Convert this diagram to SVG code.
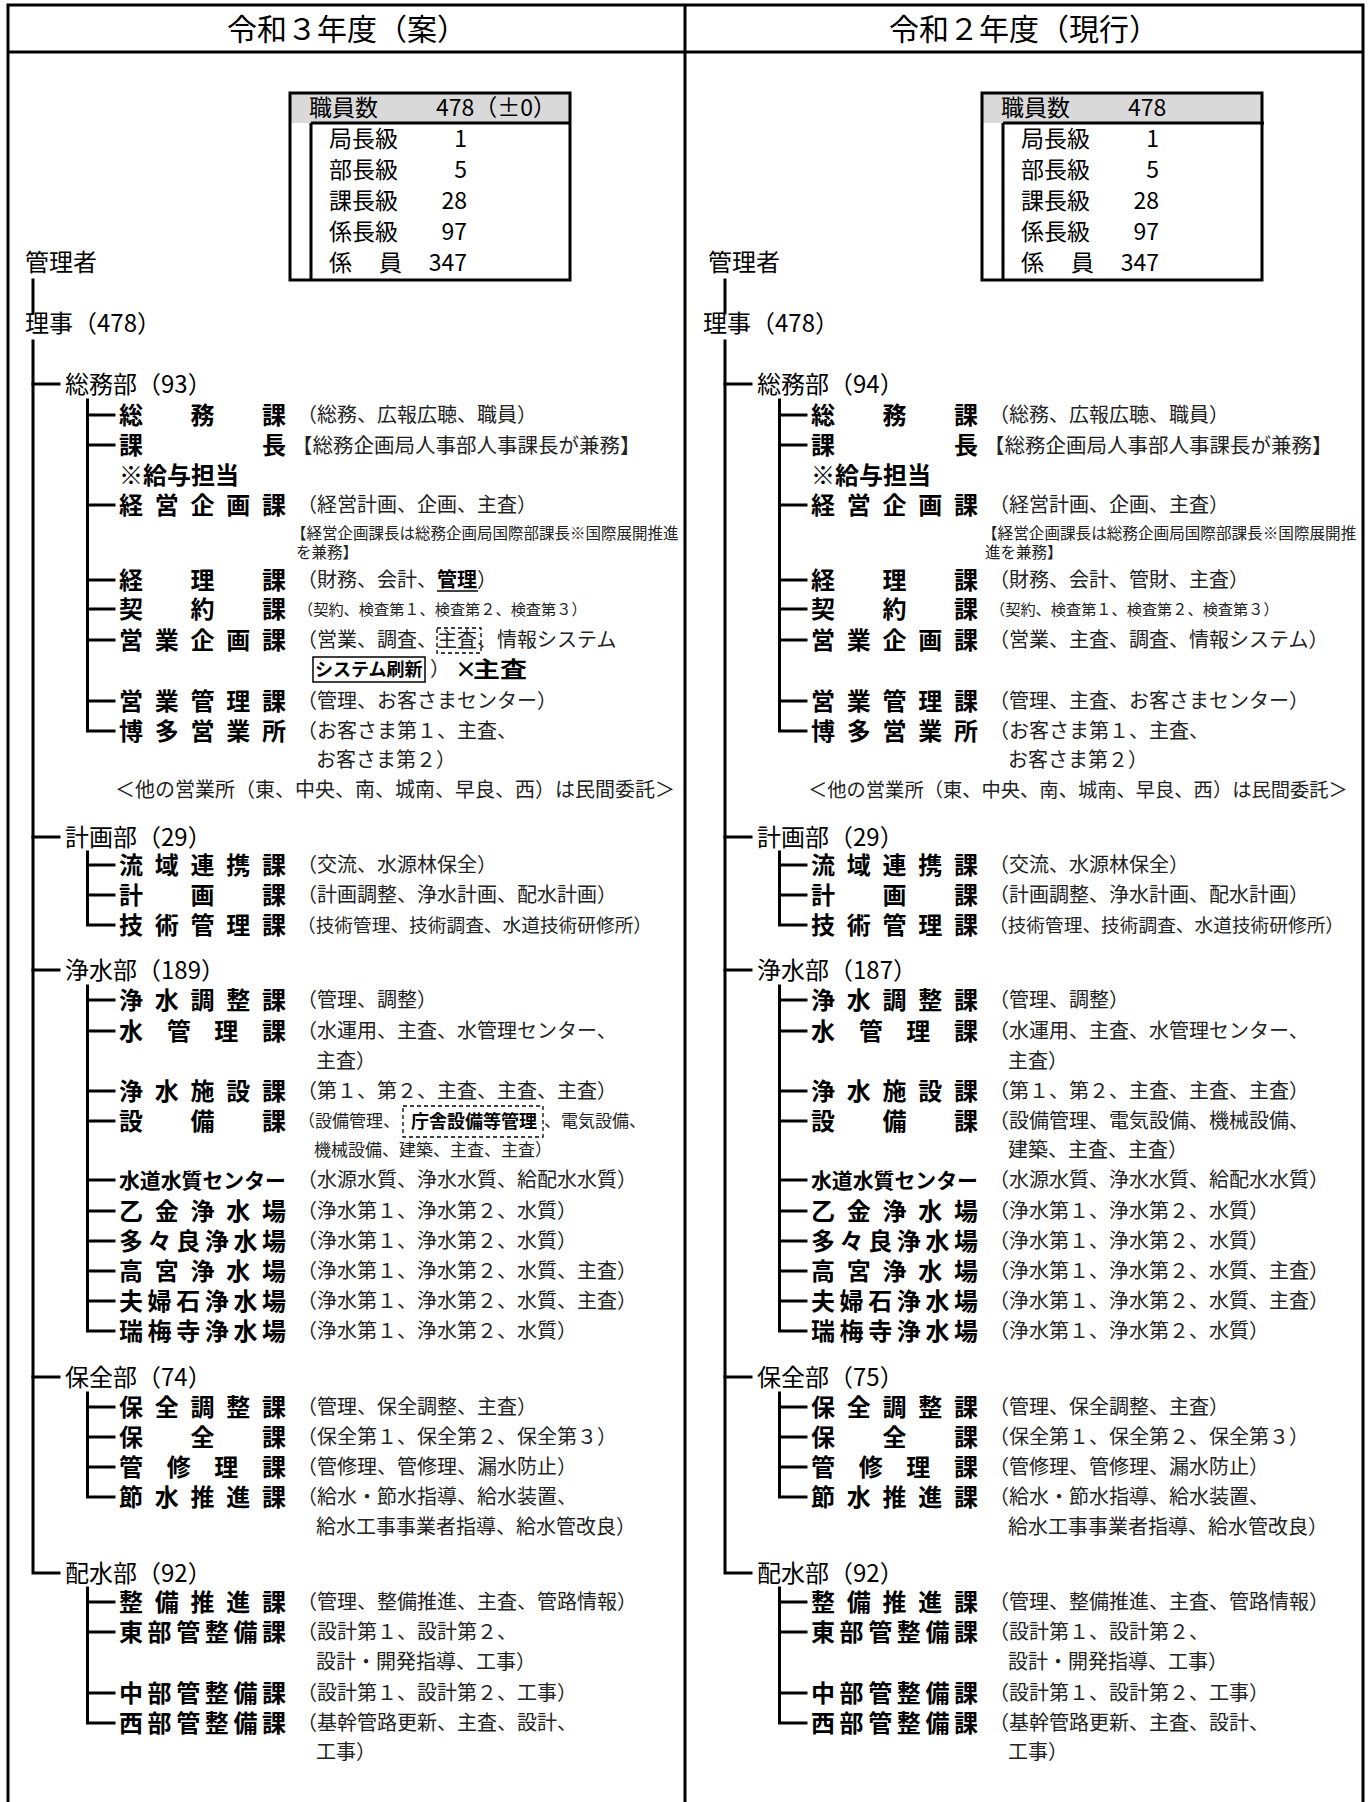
<svg xmlns="http://www.w3.org/2000/svg" width="1370" height="1802" viewBox="0 0 1370 1802">
<style>
text{font-family:"Noto Sans CJK JP","Noto Sans",sans-serif;fill:#000}
.title{font-size:30px;text-anchor:middle}
.top{font-size:24px}
.dept{font-size:24px}
.sec{font-size:24px;font-weight:bold}
.det{font-size:20px;fill:#222}
.sm{font-size:15.5px;fill:#222}
.box{font-size:23px}
.num{font-size:23px;text-anchor:end}
.ln{fill:none;stroke:#000;stroke-width:3;stroke-linecap:square}
.frame{fill:none;stroke:#000;stroke-width:3}
.dash{fill:none;stroke:#000;stroke-width:1.3;stroke-dasharray:4 3}
.solid{fill:none;stroke:#000;stroke-width:1.5}
</style>
<rect width="1370" height="1802" fill="#fff"/>
<g id="frame">
<path class="frame" d="M8,1805 V5 H1363 V1805"/>
<path class="frame" d="M8,52 H1363 M685,5 V1805"/>
</g>
<text class="title" x="347" y="40">令和３年度（案）</text>
<text class="title" x="1024" y="40">令和２年度（現行）</text>

<!-- LEFT PANEL -->
<g id="left">
<g id="l-box">
<rect x="290" y="93" width="280" height="30" fill="#d9d9d9"/>
<rect class="frame" x="290" y="93" width="280" height="187"/>
<path class="frame" d="M311,123 H570 M311,123 V280"/>
<text class="box" x="309" y="116">職員数</text>
<text class="box" x="436" y="116">478（±0）</text>
<text class="box" x="329" y="147">局長級</text><text class="num" x="467" y="147">1</text>
<text class="box" x="329" y="178">部長級</text><text class="num" x="467" y="178">5</text>
<text class="box" x="329" y="209">課長級</text><text class="num" x="467" y="209">28</text>
<text class="box" x="329" y="240">係長級</text><text class="num" x="467" y="240">97</text>
<text class="box" x="329 379" y="271">係員</text><text class="num" x="467" y="271">347</text>
</g>
<g id="l-kanri"><text class="top" x="25" y="271">管理者</text></g>
<g id="l-riji"><text class="top" x="25" y="332">理事（478）</text></g>

<g id="l-connectors">
<path class="ln" d="M33,280 V313"/>
<path class="ln" d="M33,341 V1573 H59"/>
<path class="ln" d="M33,384 H59 M33,837 H59 M33,970 H59 M33,1377 H59"/>
<path class="ln" d="M87.5,400 V731 H114 M87.5,415 H114 M87.5,445 H114 M87.5,505 H114 M87.5,580 H114 M87.5,609 H114 M87.5,640 H114 M87.5,701 H114"/>
<path class="ln" d="M87.5,852 V925 H114 M87.5,865 H114 M87.5,895 H114"/>
<path class="ln" d="M87.5,986 V1331 H114 M87.5,1000 H114 M87.5,1031 H114 M87.5,1091 H114 M87.5,1121 H114 M87.5,1180 H114 M87.5,1211 H114 M87.5,1241 H114 M87.5,1271 H114 M87.5,1301 H114"/>
<path class="ln" d="M87.5,1393 V1497 H114 M87.5,1407 H114 M87.5,1437 H114 M87.5,1467 H114"/>
<path class="ln" d="M87.5,1588 V1723 H114 M87.5,1602 H114 M87.5,1632 H114 M87.5,1693 H114"/>
</g>

<g id="l-soumu">
<text class="dept" x="65" y="392.5">総務部（93）</text>
<text class="sec" x="119 190.5 262" y="423.5">総務課</text><text class="det" x="297" y="422">（総務、広報広聴、職員）</text>
<text class="sec" x="119 262" y="453.5">課長</text><text class="det" style="font-size:20.5px" x="292" y="452.5">【総務企画局人事部人事課長が兼務】</text>
<text class="sec" x="119" y="483.5">※給与担当</text>
<text class="sec" x="119 154.75 190.5 226.25 262" y="513.5">経営企画課</text><text class="det" x="297" y="512">（経営計画、企画、主査）</text>
<text class="sm" x="291" y="538.5">【経営企画課長は総務企画局国際部課長※国際展開推進</text>
<text class="sm" x="296" y="557.5">を兼務】</text>
<text class="sec" x="119 190.5 262" y="588.5">経理課</text><text class="det" x="297" y="587">（財務、会計、<tspan font-weight="bold" fill="#000">管理</tspan>）</text>
<path class="solid" d="M437,591 H478"/>
<text class="sec" x="119 190.5 262" y="617.5">契約課</text><text class="det" style="font-size:15.2px" x="298" y="615">（契約、検査第１、検査第２、検査第３）</text>
<text class="sec" x="119 154.75 190.5 226.25 262" y="648.5">営業企画課</text><text class="det" x="297" y="647">（営業、調査、主査、情報システム</text>
<rect class="dash" x="437" y="628" width="44" height="25"/>
<rect class="solid" x="313" y="657" width="112" height="25"/>
<text class="det" style="font-weight:bold;fill:#000;font-size:18px" x="315" y="676">システム刷新</text>
<text class="det" x="430" y="676">）</text>
<text style="font-weight:bold;font-size:22px" x="455" y="677">×</text>
<text style="font-weight:bold;font-size:22px" x="473" y="677" textLength="54" lengthAdjust="spacingAndGlyphs">主査</text>
<text class="sec" x="119 154.75 190.5 226.25 262" y="709.5">営業管理課</text><text class="det" x="297" y="708">（管理、お客さまセンター）</text>
<text class="sec" x="119 154.75 190.5 226.25 262" y="739.5">博多営業所</text><text class="det" x="297" y="738">（お客さま第１、主査、</text>
<text class="det" x="316" y="767">お客さま第２）</text>
<text class="det" x="115" y="797">＜他の営業所（東、中央、南、城南、早良、西）は民間委託＞</text>
</g>

<g id="l-keikaku">
<text class="dept" x="65" y="845.5">計画部（29）</text>
<text class="sec" x="119 154.75 190.5 226.25 262" y="873.5">流域連携課</text><text class="det" x="297" y="872">（交流、水源林保全）</text>
<text class="sec" x="119 190.5 262" y="903.5">計画課</text><text class="det" x="297" y="902">（計画調整、浄水計画、配水計画）</text>
<text class="sec" x="119 154.75 190.5 226.25 262" y="933.5">技術管理課</text><text class="det" style="font-size:18.7px" x="297" y="931.5">（技術管理、技術調査、水道技術研修所）</text>
</g>

<g id="l-jousui">
<text class="dept" x="65" y="978.5">浄水部（189）</text>
<text class="sec" x="119 154.75 190.5 226.25 262" y="1008.5">浄水調整課</text><text class="det" x="297" y="1007">（管理、調整）</text>
<text class="sec" x="119 166.7 214.3 262" y="1039.5">水管理課</text><text class="det" x="297" y="1038">（水運用、主査、水管理センター、</text>
<text class="det" x="316" y="1068">主査）</text>
<text class="sec" x="119 154.75 190.5 226.25 262" y="1099.5">浄水施設課</text><text class="det" x="297" y="1098">（第１、第２、主査、主査、主査）</text>
<text class="sec" x="119 190.5 262" y="1129.5">設備課</text>
<text class="det" style="font-size:17px" x="298" y="1127">（設備管理、</text>
<rect class="dash" x="403" y="1106" width="140" height="31"/>
<text class="det" style="font-size:18px;font-weight:bold;fill:#000" x="411" y="1128">庁舎設備等管理</text>
<text class="det" style="font-size:17px" x="544" y="1127">、電気設備、</text>
<text class="det" style="font-size:17px" x="314" y="1156">機械設備、建築、主査、主査）</text>
<text class="sec" style="font-size:21px" x="119" y="1187.5" textLength="167" lengthAdjust="spacingAndGlyphs">水道水質センター</text><text class="det" x="297" y="1187">（水源水質、浄水水質、給配水水質）</text>
<text class="sec" x="119 154.75 190.5 226.25 262" y="1219.5">乙金浄水場</text><text class="det" x="297" y="1218">（浄水第１、浄水第２、水質）</text>
<text class="sec" x="119 147.6 176.2 204.8 233.4 262" y="1249.5">多々良浄水場</text><text class="det" x="297" y="1248">（浄水第１、浄水第２、水質）</text>
<text class="sec" x="119 154.75 190.5 226.25 262" y="1279.5">高宮浄水場</text><text class="det" x="297" y="1278">（浄水第１、浄水第２、水質、主査）</text>
<text class="sec" x="119 147.6 176.2 204.8 233.4 262" y="1309.5">夫婦石浄水場</text><text class="det" x="297" y="1308">（浄水第１、浄水第２、水質、主査）</text>
<text class="sec" x="119 147.6 176.2 204.8 233.4 262" y="1339.5">瑞梅寺浄水場</text><text class="det" x="297" y="1338">（浄水第１、浄水第２、水質）</text>
</g>

<g id="l-hozen">
<text class="dept" x="65" y="1385.5">保全部（74）</text>
<text class="sec" x="119 154.75 190.5 226.25 262" y="1415.5">保全調整課</text><text class="det" x="297" y="1414">（管理、保全調整、主査）</text>
<text class="sec" x="119 190.5 262" y="1445.5">保全課</text><text class="det" x="297" y="1444">（保全第１、保全第２、保全第３）</text>
<text class="sec" x="119 166.7 214.3 262" y="1475.5">管修理課</text><text class="det" x="297" y="1474">（管修理、管修理、漏水防止）</text>
<text class="sec" x="119 154.75 190.5 226.25 262" y="1505.5">節水推進課</text><text class="det" x="297" y="1504">（給水・節水指導、給水装置、</text>
<text class="det" x="316" y="1534">給水工事事業者指導、給水管改良）</text>
</g>

<g id="l-haisui">
<text class="dept" x="65" y="1581.5">配水部（92）</text>
<text class="sec" x="119 154.75 190.5 226.25 262" y="1610.5">整備推進課</text><text class="det" x="297" y="1609">（管理、整備推進、主査、管路情報）</text>
<text class="sec" x="119 147.6 176.2 204.8 233.4 262" y="1640.5">東部管整備課</text><text class="det" x="297" y="1639">（設計第１、設計第２、</text>
<text class="det" x="316" y="1669">設計・開発指導、工事）</text>
<text class="sec" x="119 147.6 176.2 204.8 233.4 262" y="1701.5">中部管整備課</text><text class="det" x="297" y="1700">（設計第１、設計第２、工事）</text>
<text class="sec" x="119 147.6 176.2 204.8 233.4 262" y="1731.5">西部管整備課</text><text class="det" x="297" y="1730">（基幹管路更新、主査、設計、</text>
<text class="det" x="316" y="1759">工事）</text>
</g>
</g>

<!-- RIGHT PANEL -->
<g id="right" transform="translate(692,0)">
<g id="r-box">
<rect x="290" y="93" width="280" height="30" fill="#d9d9d9"/>
<rect class="frame" x="290" y="93" width="280" height="187"/>
<path class="frame" d="M311,123 H572 M311,123 V280"/>
<text class="box" x="309" y="116">職員数</text>
<text class="box" x="436" y="116">478</text>
<text class="box" x="329" y="147">局長級</text><text class="num" x="467" y="147">1</text>
<text class="box" x="329" y="178">部長級</text><text class="num" x="467" y="178">5</text>
<text class="box" x="329" y="209">課長級</text><text class="num" x="467" y="209">28</text>
<text class="box" x="329" y="240">係長級</text><text class="num" x="467" y="240">97</text>
<text class="box" x="329 379" y="271">係員</text><text class="num" x="467" y="271">347</text>
</g>
<g id="r-kanri"><text class="top" x="16" y="271">管理者</text></g>
<g id="r-riji"><text class="top" x="11" y="332">理事（478）</text></g>

<g id="r-connectors">
<path class="ln" d="M33,280 V313"/>
<path class="ln" d="M33,341 V1573 H59"/>
<path class="ln" d="M33,384 H59 M33,837 H59 M33,970 H59 M33,1377 H59"/>
<path class="ln" d="M87.5,400 V731 H114 M87.5,415 H114 M87.5,445 H114 M87.5,505 H114 M87.5,580 H114 M87.5,609 H114 M87.5,640 H114 M87.5,701 H114"/>
<path class="ln" d="M87.5,852 V925 H114 M87.5,865 H114 M87.5,895 H114"/>
<path class="ln" d="M87.5,986 V1331 H114 M87.5,1000 H114 M87.5,1031 H114 M87.5,1091 H114 M87.5,1121 H114 M87.5,1180 H114 M87.5,1211 H114 M87.5,1241 H114 M87.5,1271 H114 M87.5,1301 H114"/>
<path class="ln" d="M87.5,1393 V1497 H114 M87.5,1407 H114 M87.5,1437 H114 M87.5,1467 H114"/>
<path class="ln" d="M87.5,1588 V1723 H114 M87.5,1602 H114 M87.5,1632 H114 M87.5,1693 H114"/>
</g>

<g id="r-soumu">
<text class="dept" x="65" y="392.5">総務部（94）</text>
<text class="sec" x="119 190.5 262" y="423.5">総務課</text><text class="det" x="297" y="422">（総務、広報広聴、職員）</text>
<text class="sec" x="119 262" y="453.5">課長</text><text class="det" style="font-size:20.5px" x="292" y="452.5">【総務企画局人事部人事課長が兼務】</text>
<text class="sec" x="119" y="483.5">※給与担当</text>
<text class="sec" x="119 154.75 190.5 226.25 262" y="513.5">経営企画課</text><text class="det" x="297" y="512">（経営計画、企画、主査）</text>
<text class="sm" style="font-size:15.6px" x="290" y="538.5">【経営企画課長は総務企画局国際部課長※国際展開推</text>
<text class="sm" x="293" y="557.5">進を兼務】</text>
<text class="sec" x="119 190.5 262" y="588.5">経理課</text><text class="det" x="297" y="587">（財務、会計、管財、主査）</text>
<text class="sec" x="119 190.5 262" y="617.5">契約課</text><text class="det" style="font-size:15.2px" x="298" y="615">（契約、検査第１、検査第２、検査第３）</text>
<text class="sec" x="119 154.75 190.5 226.25 262" y="648.5">営業企画課</text><text class="det" x="297" y="647">（営業、主査、調査、情報システム）</text>
<text class="sec" x="119 154.75 190.5 226.25 262" y="709.5">営業管理課</text><text class="det" x="297" y="708">（管理、主査、お客さまセンター）</text>
<text class="sec" x="119 154.75 190.5 226.25 262" y="739.5">博多営業所</text><text class="det" x="297" y="738">（お客さま第１、主査、</text>
<text class="det" x="316" y="767">お客さま第２）</text>
<text class="det" style="font-size:19.3px" x="116" y="797">＜他の営業所（東、中央、南、城南、早良、西）は民間委託＞</text>
</g>

<g id="r-keikaku">
<text class="dept" x="65" y="845.5">計画部（29）</text>
<text class="sec" x="119 154.75 190.5 226.25 262" y="873.5">流域連携課</text><text class="det" x="297" y="872">（交流、水源林保全）</text>
<text class="sec" x="119 190.5 262" y="903.5">計画課</text><text class="det" x="297" y="902">（計画調整、浄水計画、配水計画）</text>
<text class="sec" x="119 154.75 190.5 226.25 262" y="933.5">技術管理課</text><text class="det" style="font-size:18.7px" x="297" y="931.5">（技術管理、技術調査、水道技術研修所）</text>
</g>

<g id="r-jousui">
<text class="dept" x="65" y="978.5">浄水部（187）</text>
<text class="sec" x="119 154.75 190.5 226.25 262" y="1008.5">浄水調整課</text><text class="det" x="297" y="1007">（管理、調整）</text>
<text class="sec" x="119 166.7 214.3 262" y="1039.5">水管理課</text><text class="det" x="297" y="1038">（水運用、主査、水管理センター、</text>
<text class="det" x="316" y="1068">主査）</text>
<text class="sec" x="119 154.75 190.5 226.25 262" y="1099.5">浄水施設課</text><text class="det" x="297" y="1098">（第１、第２、主査、主査、主査）</text>
<text class="sec" x="119 190.5 262" y="1129.5">設備課</text><text class="det" x="297" y="1128">（設備管理、電気設備、機械設備、</text>
<text class="det" x="316" y="1157">建築、主査、主査）</text>
<text class="sec" style="font-size:21px" x="119" y="1187.5" textLength="167" lengthAdjust="spacingAndGlyphs">水道水質センター</text><text class="det" x="297" y="1187">（水源水質、浄水水質、給配水水質）</text>
<text class="sec" x="119 154.75 190.5 226.25 262" y="1219.5">乙金浄水場</text><text class="det" x="297" y="1218">（浄水第１、浄水第２、水質）</text>
<text class="sec" x="119 147.6 176.2 204.8 233.4 262" y="1249.5">多々良浄水場</text><text class="det" x="297" y="1248">（浄水第１、浄水第２、水質）</text>
<text class="sec" x="119 154.75 190.5 226.25 262" y="1279.5">高宮浄水場</text><text class="det" x="297" y="1278">（浄水第１、浄水第２、水質、主査）</text>
<text class="sec" x="119 147.6 176.2 204.8 233.4 262" y="1309.5">夫婦石浄水場</text><text class="det" x="297" y="1308">（浄水第１、浄水第２、水質、主査）</text>
<text class="sec" x="119 147.6 176.2 204.8 233.4 262" y="1339.5">瑞梅寺浄水場</text><text class="det" x="297" y="1338">（浄水第１、浄水第２、水質）</text>
</g>

<g id="r-hozen">
<text class="dept" x="65" y="1385.5">保全部（75）</text>
<text class="sec" x="119 154.75 190.5 226.25 262" y="1415.5">保全調整課</text><text class="det" x="297" y="1414">（管理、保全調整、主査）</text>
<text class="sec" x="119 190.5 262" y="1445.5">保全課</text><text class="det" x="297" y="1444">（保全第１、保全第２、保全第３）</text>
<text class="sec" x="119 166.7 214.3 262" y="1475.5">管修理課</text><text class="det" x="297" y="1474">（管修理、管修理、漏水防止）</text>
<text class="sec" x="119 154.75 190.5 226.25 262" y="1505.5">節水推進課</text><text class="det" x="297" y="1504">（給水・節水指導、給水装置、</text>
<text class="det" x="316" y="1534">給水工事事業者指導、給水管改良）</text>
</g>

<g id="r-haisui">
<text class="dept" x="65" y="1581.5">配水部（92）</text>
<text class="sec" x="119 154.75 190.5 226.25 262" y="1610.5">整備推進課</text><text class="det" x="297" y="1609">（管理、整備推進、主査、管路情報）</text>
<text class="sec" x="119 147.6 176.2 204.8 233.4 262" y="1640.5">東部管整備課</text><text class="det" x="297" y="1639">（設計第１、設計第２、</text>
<text class="det" x="316" y="1669">設計・開発指導、工事）</text>
<text class="sec" x="119 147.6 176.2 204.8 233.4 262" y="1701.5">中部管整備課</text><text class="det" x="297" y="1700">（設計第１、設計第２、工事）</text>
<text class="sec" x="119 147.6 176.2 204.8 233.4 262" y="1731.5">西部管整備課</text><text class="det" x="297" y="1730">（基幹管路更新、主査、設計、</text>
<text class="det" x="316" y="1759">工事）</text>
</g>
</g>
</svg>
